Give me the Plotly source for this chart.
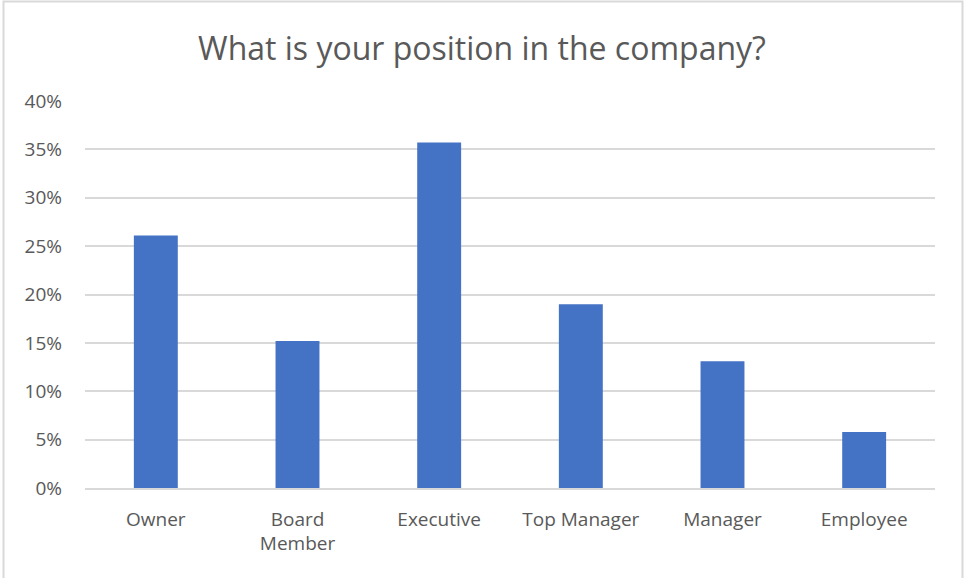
import plotly.graph_objs as go

CATEGORIES = ["Owner", "Board<br>Member", "Executive", "Top Manager", "Manager", "Employee"]
SHARES = [0.261, 0.152, 0.357, 0.190, 0.131, 0.058]
Y_TICKS = [0, 0.05, 0.10, 0.15, 0.20, 0.25, 0.30, 0.35, 0.40]
Y_TICK_LABELS = ["0%", "5%", "10%", "15%", "20%", "25%", "30%", "35%", "40%"]

TEXT_COLOR = "#595959"
GRID_COLOR = "#d9d9d9"
BAR_COLOR = "#4472c4"
FONT = "Open Sans, Liberation Sans, sans-serif"

# plot area in pixels (left, right, top, bottom) from the reference
PL, PR, PT, PB = 85, 935, 101, 488
PW, PH = PR - PL, PB - PT

fig = go.Figure()
fig.add_trace(go.Bar(x=CATEGORIES, y=SHARES, marker_color=BAR_COLOR, marker_line_width=0, hoverinfo="skip"))

fig.update_layout(
    width=964,
    height=578,
    paper_bgcolor="white",
    plot_bgcolor="white",
    bargap=0.69,
    showlegend=False,
    margin={"l": PL, "r": 964 - PR, "t": PT, "b": 578 - PB, "pad": 0},
    font={"family": FONT, "size": 19, "color": TEXT_COLOR},
    title={
        "text": "What is your position in the company?",
        "x": 0.5,
        "xanchor": "center",
        "y": 1 - 49 / 578,
        "yanchor": "middle",
        "font": {"size": 32, "color": TEXT_COLOR, "family": FONT},
    },
    # light grey frame round the chart, open at the bottom like the reference
    shapes=[go.layout.Shape(type="rect", xref="paper", yref="paper",
                            x0=(3.5 - PL) / PW, x1=(962.5 - PL) / PW,
                            y0=-(578 - PB + 10) / PH, y1=(PB - 1.5) / PH,
                            line={"width": 2, "color": GRID_COLOR})],
)
fig.update_yaxes(range=[0, 0.40], tickvals=Y_TICKS, ticktext=Y_TICK_LABELS, gridcolor=GRID_COLOR,
                 gridwidth=1.5, zeroline=False, ticklabelstandoff=22, showline=False)
fig.update_xaxes(showline=True, linecolor=GRID_COLOR, linewidth=1.5, ticks="", ticklabelstandoff=13)

fig.write_html("out.html", config={"displayModeBar": False},
               post_script="document.body.style.margin='0';document.body.style.overflow='hidden';")
